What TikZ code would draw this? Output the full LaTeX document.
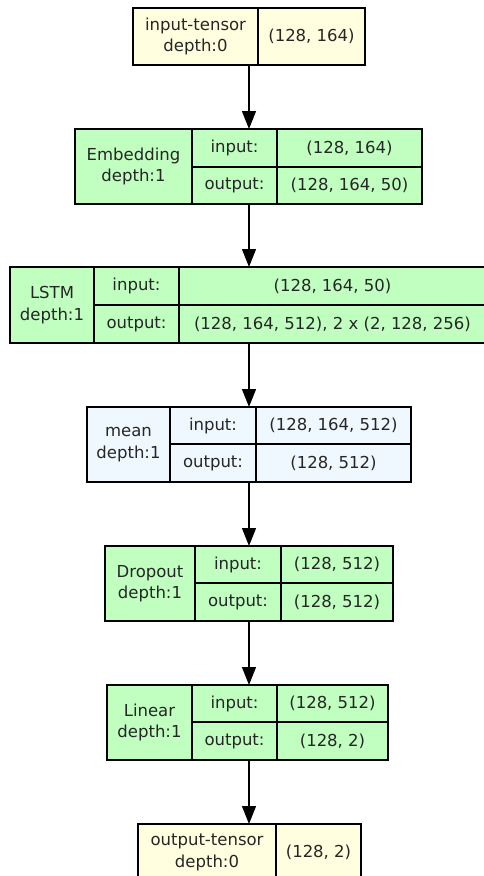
\documentclass[tikz,border=0pt]{standalone}
\usepackage{fontspec}
\setmainfont{DejaVu Sans}
\usetikzlibrary{arrows.meta}
\definecolor{tyellow}{HTML}{FFFFE0}
\definecolor{lgreen}{HTML}{C1FFC1}
\definecolor{aliceb}{HTML}{F0F8FF}
\tikzset{
  cell/.style={draw=black, line width=1.3pt, inner sep=0pt, outer sep=0pt, align=center,
    font=\fontsize{16.5}{21.5}\selectfont, text=black!85},
  ycell/.style={cell, fill=tyellow},
  gcell/.style={cell, fill=lgreen},
  bcell/.style={cell, fill=aliceb},
  arr/.style={draw=black, line width=1.4pt, -{Triangle[length=18pt,width=14pt]}},
}
\begin{document}
\begin{tikzpicture}[x=1pt,y=-1pt]
\useasboundingbox (0,0) rectangle (484,876);
\clip (0,0) rectangle (484,876);
\coordinate (ax) at (249,0);
% input tensor
\node[ycell, minimum width=125pt, minimum height=57pt] (inT) at (195.5,36.5) {input-tensor\\depth:0};
\node[ycell, minimum width=107pt, minimum height=57pt] (inV) at (311.5,36.5) {(128, 164)};
% Embedding
\node[gcell, minimum width=117pt, minimum height=75pt] (embN) at (133.5,166.5) {Embedding\\depth:1};
\node[gcell, minimum width=85pt, minimum height=38pt] (embI) at (234.5,148) {input:};
\node[gcell, minimum width=145pt, minimum height=38pt] (embIV) at (349.5,148) {(128, 164)};
\node[gcell, minimum width=85pt, minimum height=37pt] (embO) at (234.5,185.5) {output:};
\node[gcell, minimum width=145pt, minimum height=37pt] (embOV) at (349.5,185.5) {(128, 164, 50)};
% LSTM
\node[gcell, minimum width=84pt, minimum height=76pt] (lstmN) at (52,305) {LSTM\\depth:1};
\node[gcell, minimum width=85pt, minimum height=38pt] (lstmI) at (136.5,286) {input:};
\node[gcell, minimum width=307pt, minimum height=38pt] (lstmIV) at (332.5,286) {(128, 164, 50)};
\node[gcell, minimum width=85pt, minimum height=38pt] (lstmO) at (136.5,324) {output:};
\node[gcell, minimum width=307pt, minimum height=38pt] (lstmOV) at (332.5,324) {(128, 164, 512), 2 x (2, 128, 256)};
% mean
\node[bcell, minimum width=83pt, minimum height=75pt] (meanN) at (128.5,444.5) {mean\\depth:1};
\node[bcell, minimum width=86pt, minimum height=37pt] (meanI) at (213,425.5) {input:};
\node[bcell, minimum width=155pt, minimum height=37pt] (meanIV) at (333.5,425.5) {(128, 164, 512)};
\node[bcell, minimum width=86pt, minimum height=38pt] (meanO) at (213,463) {output:};
\node[bcell, minimum width=155pt, minimum height=38pt] (meanOV) at (333.5,463) {(128, 512)};
% Dropout
\node[gcell, minimum width=90pt, minimum height=75pt] (dropN) at (150,583.5) {Dropout\\depth:1};
\node[gcell, minimum width=86pt, minimum height=37pt] (dropI) at (238,564.5) {input:};
\node[gcell, minimum width=112pt, minimum height=37pt] (dropIV) at (337,564.5) {(128, 512)};
\node[gcell, minimum width=86pt, minimum height=38pt] (dropO) at (238,602) {output:};
\node[gcell, minimum width=112pt, minimum height=38pt] (dropOV) at (337,602) {(128, 512)};
% Linear
\node[gcell, minimum width=85pt, minimum height=75pt] (linN) at (149.5,722.5) {Linear\\depth:1};
\node[gcell, minimum width=85pt, minimum height=37pt] (linI) at (234.5,703.5) {input:};
\node[gcell, minimum width=111pt, minimum height=37pt] (linIV) at (332.5,703.5) {(128, 512)};
\node[gcell, minimum width=85pt, minimum height=38pt] (linO) at (234.5,741) {output:};
\node[gcell, minimum width=111pt, minimum height=38pt] (linOV) at (332.5,741) {(128, 2)};
% output tensor
\node[ycell, minimum width=138pt, minimum height=57pt] (outT) at (207,852.5) {output-tensor\\depth:0};
\node[ycell, minimum width=85pt, minimum height=57pt] (outV) at (318.5,852.5) {(128, 2)};
% arrows
\draw[arr] (inT.south -| ax) -- (embI.north -| ax);
\draw[arr] (embO.south -| ax) -- (lstmIV.north -| ax);
\draw[arr] (lstmOV.south -| ax) -- (meanI.north -| ax);
\draw[arr] (meanO.south -| ax) -- (dropI.north -| ax);
\draw[arr] (dropO.south -| ax) -- (linI.north -| ax);
\draw[arr] (linO.south -| ax) -- (outT.north -| ax);
\end{tikzpicture}
\end{document}
